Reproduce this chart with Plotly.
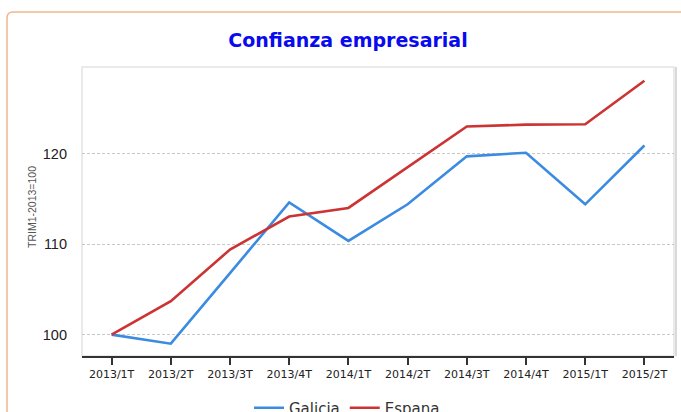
import plotly.graph_objects as go

categories = ["2013/1T", "2013/2T", "2013/3T", "2013/4T", "2014/1T",
              "2014/2T", "2014/3T", "2014/4T", "2015/1T", "2015/2T"]
galicia = [100.0, 99.0, 106.8, 114.6, 110.35, 114.4, 119.7, 120.1, 114.4, 120.9]
espana = [100.0, 103.7, 109.4, 113.05, 114.0, 118.5, 123.0, 123.2, 123.25, 128.05]
y_ticks = [100, 110, 120]

W, H = 681, 412
L, R, T, B = 82, 7, 67, 56
pw, ph = W - L - R, H - T - B

def px_x(x):
    return (x - L) / pw

def px_y(y):
    return (H - B - y) / ph

fig = go.Figure()
fig.add_trace(go.Scatter(x=categories, y=galicia, mode="lines", name="Galicia",
                         line=dict(color="#3b8be0", width=2.6)))
fig.add_trace(go.Scatter(x=categories, y=espana, mode="lines", name="Espana",
                         line=dict(color="#cc3333", width=2.6)))

# orange rounded frame
x0, y0 = px_x(7), px_y(12)
x1, y1 = px_x(700), px_y(430)
rx, ry = 6 / pw, 6 / ph
frame = (f"M {x0},{y1} L {x0},{y0 - ry} Q {x0},{y0} {x0 + rx},{y0} "
         f"L {x1},{y0}")
shapes = [
    dict(type="path", xref="paper", yref="paper", path=frame,
         line=dict(color="#f2b58d", width=1.5), layer="below"),
    dict(type="rect", xref="paper", yref="paper", x0=0, y0=0, x1=1, y1=1,
         line=dict(color="#e4e4e4", width=1.5), layer="below"),
    dict(type="line", xref="paper", yref="paper", x0=1 + 2 / pw, y0=0, x1=1 + 2 / pw, y1=1,
         line=dict(color="#d9d9d9", width=2), layer="below"),
]

fig.update_layout(
    width=W, height=H,
    margin=dict(l=L, r=R, t=T, b=B, autoexpand=False),
    paper_bgcolor="white", plot_bgcolor="white",
    title=dict(text="<b>Confianza empresarial</b>", x=348 / W, xanchor="center",
               y=1 - 40 / H, yanchor="middle",
               font=dict(family="DejaVu Sans", size=19, color="#0a0aee")),
    xaxis=dict(range=[-0.5, 9.5], showgrid=False, showline=True,
               linecolor="#333333", linewidth=2, ticks="outside", ticklen=7,
               tickcolor="#333333", tickwidth=1.5,
               tickfont=dict(family="DejaVu Sans", size=11, color="#222222"),
               zeroline=False, automargin=False),
    yaxis=dict(range=[97.64, 129.57], tickvals=y_ticks, showgrid=True,
               gridcolor="#c8c8c8", griddash="3px,2px", gridwidth=1,
               showline=False, zeroline=False, ticks="",
               ticklabelstandoff=14, automargin=False,
               tickfont=dict(family="Liberation Sans", size=14.5, color="#222222")),
    legend=dict(orientation="h", x=px_x(347), xanchor="center",
                y=px_y(408), yanchor="middle",
                font=dict(family="DejaVu Sans", size=15, color="#333333"),
                bgcolor="rgba(0,0,0,0)"),
    shapes=shapes,
    annotations=[dict(text="TRIM1-2013=100", xref="paper", yref="paper",
                      x=px_x(32), y=px_y(207), textangle=-90, showarrow=False,
                      xanchor="center", yanchor="middle",
                      font=dict(family="Liberation Sans", size=10.5, color="#555555"))],
)

fig.write_html("out.html", config={"displayModeBar": False},
               post_script="document.body.style.margin='0';document.body.style.overflow='hidden';")
